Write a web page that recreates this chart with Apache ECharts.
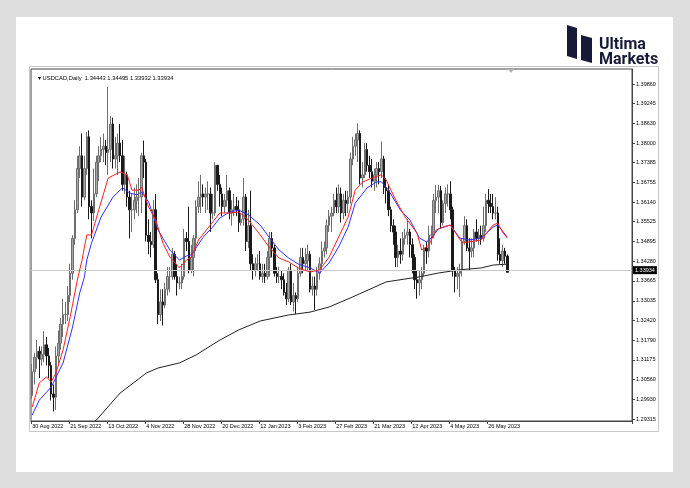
<!DOCTYPE html>
<html><head><meta charset="utf-8">
<script src="https://cdn.jsdelivr.net/npm/echarts@6/dist/echarts.min.js"></script>
<style>html,body{margin:0;padding:0;background:#dedede}#c{width:690px;height:488px}</style>
</head><body><div id="c"></div>
<script>
const symbolName = 'USDCAD,Daily';
const firstDay = '2022-08-30';
const lastDay = '2023-06-07';
const closedDays = ['2022-12-26'];
const barSlots = 253;
// [open, close, low, high]
const ohlc = [
[1.3005,1.3080,1.2996,1.3104],[1.3080,1.3125,1.3040,1.3140],[1.3125,1.3145,1.3090,1.3180],[1.3145,1.3120,1.3060,1.3160],
[1.3120,1.3135,1.3100,1.3160],[1.3135,1.3165,1.3110,1.3208],[1.3165,1.3130,1.3100,1.3190],[1.3130,1.3100,1.3060,1.3155],
[1.3100,1.3010,1.2990,1.3110],[1.3010,1.3000,1.2955,1.3040],[1.3000,1.3130,1.2960,1.3160],[1.3130,1.3170,1.3100,1.3210],
[1.3170,1.3230,1.3150,1.3250],[1.3230,1.3260,1.3190,1.3310],[1.3260,1.3260,1.3230,1.3300],[1.3260,1.3320,1.3240,1.3350],
[1.3320,1.3390,1.3300,1.3420],[1.3390,1.3500,1.3370,1.3510],[1.3500,1.3590,1.3480,1.3620],[1.3590,1.3720,1.3580,1.3760],
[1.3720,1.3760,1.3690,1.3790],[1.3760,1.3630,1.3600,1.3830],[1.3630,1.3720,1.3620,1.3760],[1.3720,1.3820,1.3700,1.3835],
[1.3820,1.3600,1.3560,1.3840],[1.3600,1.3580,1.3500,1.3620],[1.3580,1.3640,1.3555,1.3720],[1.3640,1.3740,1.3630,1.3760],
[1.3740,1.3760,1.3680,1.3790],[1.3760,1.3780,1.3740,1.3820],[1.3780,1.3790,1.3740,1.3830],[1.3790,1.3770,1.3730,1.3810],
[1.3770,1.3780,1.3700,1.3977],[1.3780,1.3860,1.3740,1.3885],[1.3860,1.3750,1.3720,1.3880],[1.3750,1.3760,1.3720,1.3820],
[1.3760,1.3800,1.3700,1.3830],[1.3800,1.3760,1.3740,1.3860],[1.3760,1.3670,1.3650,1.3810],[1.3670,1.3700,1.3640,1.3760],
[1.3700,1.3630,1.3600,1.3710],[1.3630,1.3590,1.3500,1.3650],[1.3590,1.3590,1.3520,1.3640],[1.3590,1.3620,1.3560,1.3660],
[1.3620,1.3630,1.3580,1.3670],[1.3630,1.3630,1.3570,1.3690],[1.3630,1.3760,1.3580,1.3770],[1.3760,1.3740,1.3690,1.3808],
[1.3740,1.3510,1.3490,1.3750],[1.3510,1.3490,1.3450,1.3560],[1.3490,1.3480,1.3440,1.3520],[1.3480,1.3590,1.3470,1.3620],
[1.3590,1.3370,1.3360,1.3640],[1.3370,1.3260,1.3230,1.3390],[1.3260,1.3300,1.3240,1.3340],[1.3300,1.3290,1.3226,1.3340],
[1.3290,1.3340,1.3280,1.3360],[1.3340,1.3380,1.3320,1.3410],[1.3380,1.3380,1.3330,1.3410],[1.3380,1.3450,1.3370,1.3470],
[1.3450,1.3380,1.3370,1.3460],[1.3380,1.3360,1.3320,1.3420],[1.3360,1.3360,1.3340,1.3380],[1.3360,1.3380,1.3340,1.3420],
[1.3380,1.3500,1.3370,1.3530],[1.3500,1.3490,1.3460,1.3520],[1.3490,1.3400,1.3390,1.3600],[1.3400,1.3440,1.3390,1.3480],
[1.3440,1.3500,1.3380,1.3510],[1.3500,1.3600,1.3460,1.3620],[1.3600,1.3630,1.3580,1.3680],[1.3630,1.3640,1.3580,1.3700],
[1.3640,1.3630,1.3600,1.3670],[1.3630,1.3640,1.3580,1.3660],[1.3640,1.3640,1.3590,1.3680],[1.3640,1.3580,1.3520,1.3660],
[1.3580,1.3580,1.3560,1.3640],[1.3580,1.3730,1.3570,1.3740],[1.3730,1.3670,1.3650,1.3700],[1.3670,1.3640,1.3600,1.3700],
[1.3640,1.3600,1.3570,1.3660],[1.3600,1.3620,1.3580,1.3640],[1.3620,1.3650,1.3600,1.3700],[1.3650,1.3580,1.3560,1.3660],
[1.3580,1.3590,1.3540,1.3620],[1.3590,1.3600,1.3570,1.3640],[1.3600,1.3590,1.3570,1.3630],[1.3590,1.3550,1.3520,1.3620],
[1.3550,1.3560,1.3540,1.3580],[1.3560,1.3630,1.3540,1.3690],[1.3630,1.3490,1.3460,1.3640],[1.3490,1.3540,1.3470,1.3590],
[1.3540,1.3420,1.3400,1.3650],[1.3420,1.3400,1.3370,1.3450],[1.3400,1.3420,1.3380,1.3440],[1.3420,1.3420,1.3400,1.3450],
[1.3420,1.3380,1.3370,1.3460],[1.3380,1.3390,1.3360,1.3420],[1.3390,1.3380,1.3360,1.3420],[1.3380,1.3440,1.3370,1.3460],
[1.3440,1.3500,1.3380,1.3520],[1.3500,1.3470,1.3440,1.3520],[1.3470,1.3390,1.3380,1.3480],[1.3390,1.3380,1.3360,1.3410],
[1.3380,1.3380,1.3360,1.3410],[1.3380,1.3370,1.3340,1.3400],[1.3370,1.3330,1.3320,1.3390],[1.3330,1.3310,1.3290,1.3360],
[1.3310,1.3400,1.3300,1.3410],[1.3400,1.3300,1.3290,1.3420],[1.3300,1.3320,1.3270,1.3360],[1.3320,1.3310,1.3262,1.3330],
[1.3310,1.3390,1.3300,1.3410],[1.3390,1.3440,1.3380,1.3470],[1.3440,1.3420,1.3390,1.3470],[1.3420,1.3430,1.3400,1.3470],
[1.3430,1.3450,1.3400,1.3480],[1.3450,1.3340,1.3330,1.3460],[1.3340,1.3350,1.3320,1.3380],[1.3350,1.3340,1.3275,1.3380],
[1.3340,1.3390,1.3320,1.3410],[1.3390,1.3420,1.3370,1.3440],[1.3420,1.3460,1.3400,1.3490],[1.3460,1.3470,1.3440,1.3490],
[1.3470,1.3540,1.3450,1.3560],[1.3540,1.3570,1.3520,1.3590],[1.3570,1.3580,1.3520,1.3600],[1.3580,1.3620,1.3570,1.3640],
[1.3620,1.3600,1.3580,1.3660],[1.3600,1.3640,1.3580,1.3670],[1.3640,1.3580,1.3550,1.3660],[1.3580,1.3620,1.3560,1.3640],
[1.3620,1.3610,1.3570,1.3650],[1.3610,1.3630,1.3580,1.3650],[1.3630,1.3750,1.3610,1.3770],[1.3750,1.3790,1.3730,1.3820],
[1.3790,1.3810,1.3760,1.3830],[1.3810,1.3830,1.3740,1.3862],[1.3830,1.3690,1.3670,1.3840],[1.3690,1.3700,1.3660,1.3740],
[1.3700,1.3780,1.3690,1.3800],[1.3780,1.3730,1.3710,1.3800],[1.3730,1.3710,1.3690,1.3760],[1.3710,1.3680,1.3660,1.3750],
[1.3680,1.3700,1.3650,1.3720],[1.3700,1.3720,1.3660,1.3740],[1.3720,1.3710,1.3670,1.3740],[1.3710,1.3750,1.3690,1.3805],
[1.3750,1.3660,1.3640,1.3760],[1.3660,1.3650,1.3610,1.3690],[1.3650,1.3590,1.3570,1.3670],[1.3590,1.3540,1.3520,1.3600],
[1.3540,1.3520,1.3480,1.3560],[1.3520,1.3440,1.3410,1.3540],[1.3440,1.3460,1.3410,1.3480],[1.3460,1.3450,1.3420,1.3500],
[1.3450,1.3500,1.3430,1.3520],[1.3500,1.3510,1.3480,1.3530],[1.3510,1.3520,1.3480,1.3560],[1.3520,1.3480,1.3440,1.3530],
[1.3480,1.3440,1.3390,1.3500],[1.3440,1.3370,1.3340,1.3450],[1.3370,1.3360,1.3310,1.3400],[1.3360,1.3370,1.3320,1.3400],
[1.3370,1.3390,1.3340,1.3410],[1.3390,1.3470,1.3380,1.3480],[1.3470,1.3460,1.3420,1.3490],[1.3460,1.3510,1.3440,1.3540],
[1.3510,1.3510,1.3480,1.3540],[1.3510,1.3620,1.3500,1.3640],[1.3620,1.3630,1.3580,1.3668],[1.3630,1.3650,1.3580,1.3668],
[1.3650,1.3550,1.3530,1.3665],[1.3550,1.3610,1.3540,1.3620],[1.3610,1.3640,1.3580,1.3660],[1.3640,1.3640,1.3600,1.3670],
[1.3640,1.3590,1.3560,1.3680],[1.3590,1.3400,1.3380,1.3600],[1.3400,1.3380,1.3330,1.3410],[1.3380,1.3390,1.3340,1.3410],
[1.3390,1.3400,1.3316,1.3420],[1.3400,1.3490,1.3380,1.3500],[1.3490,1.3540,1.3480,1.3570],[1.3540,1.3470,1.3460,1.3560],
[1.3470,1.3460,1.3400,1.3500],[1.3460,1.3470,1.3440,1.3500],[1.3470,1.3520,1.3440,1.3530],[1.3520,1.3500,1.3490,1.3560],
[1.3500,1.3510,1.3480,1.3530],[1.3510,1.3500,1.3480,1.3540],[1.3500,1.3540,1.3490,1.3600],[1.3540,1.3620,1.3520,1.3640],
[1.3620,1.3610,1.3580,1.3655],[1.3610,1.3600,1.3580,1.3640],[1.3600,1.3580,1.3560,1.3640],[1.3580,1.3580,1.3560,1.3630],
[1.3580,1.3450,1.3430,1.3600],[1.3450,1.3430,1.3420,1.3500],[1.3430,1.3460,1.3410,1.3480],[1.3460,1.3444,1.3420,1.3470],
[1.34443,1.33934,1.33932,1.34495]
];
// fast MA (red), [bar index, value]
const maRed = [[0,1.2969],[3,1.3045],[6,1.3064],[8,1.3048],[10,1.3076],[13,1.3149],[16,1.3253],[19,1.3369],[21,1.3432],[22,1.3473],[23,1.3511],[25,1.3511],[28,1.3589],[32,1.3690],[37,1.3709],[40,1.3700],[42,1.3652],[45,1.3652],[46,1.3662],[49,1.3599],[52,1.3558],[55,1.3486],[58,1.3441],[62,1.3407],[65,1.3432],[67,1.3441],[70,1.3495],[75,1.3542],[79,1.3580],[83,1.3580],[87,1.3583],[91,1.3558],[96,1.3511],[100,1.3470],[104,1.3438],[108,1.3426],[112,1.3407],[117,1.3394],[121,1.3401],[125,1.3441],[129,1.3504],[133,1.3567],[136,1.3652],[139,1.3677],[143,1.3690],[147,1.3700],[149,1.3684],[153,1.3621],[157,1.3567],[162,1.3517],[164,1.3463],[167,1.3479],[170,1.3526],[173,1.3536],[176,1.3542],[178,1.3520],[181,1.3486],[184,1.3489],[189,1.3495],[194,1.3542],[196,1.3548],[198,1.3520],[200,1.3501]];
// slower MA (blue)
const maBlue = [[0,1.2944],[3,1.2991],[8,1.3032],[13,1.3108],[17,1.3221],[20,1.3328],[22,1.3379],[23,1.3432],[25,1.3486],[29,1.3567],[34,1.3630],[38,1.3659],[41,1.3643],[44,1.3637],[46,1.3646],[49,1.3615],[53,1.3526],[58,1.3463],[62,1.3432],[65,1.3445],[67,1.3448],[72,1.3504],[76,1.3536],[79,1.3564],[83,1.3583],[87,1.3589],[91,1.3574],[96,1.3542],[100,1.3501],[104,1.3463],[108,1.3438],[112,1.3419],[117,1.3407],[121,1.3391],[125,1.3423],[129,1.3473],[133,1.3536],[136,1.3611],[141,1.3659],[145,1.3678],[147,1.3678],[150,1.3652],[155,1.3589],[159,1.3558],[163,1.3501],[166,1.3489],[168,1.3501],[171,1.3530],[176,1.3542],[180,1.3501],[184,1.3495],[189,1.3501],[194,1.3536],[196,1.3542],[200,1.3504]];
// long MA (black)
const maLong = [[22,1.2895],[27,1.2928],[37,1.3013],[48,1.3076],[53,1.3092],[62,1.3108],[69,1.3133],[79,1.3180],[87,1.3212],[96,1.3240],[108,1.3259],[117,1.3268],[125,1.3284],[135,1.3316],[149,1.3363],[163,1.3379],[171,1.3391],[180,1.3401],[189,1.3407],[194,1.3416],[200,1.3419]];
const priceTicks = [1.29315,1.29930,1.30560,1.31175,1.31790,1.32420,1.33035,1.33665,1.34280,1.34895,1.35525,1.36140,1.36755,1.37385,1.38000,1.38630,1.39245,1.39860];
const priceMin = 1.29252, priceMax = 1.40332;

const monthNames = ['Jan','Feb','Mar','Apr','May','Jun','Jul','Aug','Sep','Oct','Nov','Dec'];
const dates = [];
for (let t = Date.parse(firstDay + 'T00:00:00Z'); t <= Date.parse(lastDay + 'T00:00:00Z'); t += 86400000) {
  const d = new Date(t), wd = d.getUTCDay(), iso = d.toISOString().slice(0, 10);
  if (wd === 0 || wd === 6 || closedDays.includes(iso)) continue;
  dates.push(d.getUTCDate() + ' ' + monthNames[d.getUTCMonth()] + ' ' + d.getUTCFullYear());
}
const cats = dates.slice();
for (let i = dates.length; i < barSlots; i++) cats.push('_' + i);
const last = ohlc[ohlc.length - 1];
const f5 = v => v.toFixed(5);
const headText = '\u25BE ' + symbolName + '  ' + [last[0], last[3], last[2], last[1]].map(f5).join(' ');
const FONT = 'Liberation Sans';
const showDateTick = (i, v) => i % 16 === 0 && v.charAt(0) !== '_';

const chart = echarts.init(document.getElementById('c'), null, {renderer: 'canvas'});
chart.setOption({
  animation: false,
  backgroundColor: '#dedede',
  title: {text: headText, left: 33, top: 70, textStyle: {fontFamily: FONT, fontSize: 5.8, fontWeight: 'normal', color: '#000'}},
  grid: {left: 31, right: 58, top: 69, bottom: 67, show: true, backgroundColor: '#ffffff', borderColor: '#444', borderWidth: 1},
  xAxis: {
    type: 'category', data: cats, boundaryGap: true,
    axisLine: {show: true, lineStyle: {color: '#444', width: 1}},
    axisTick: {show: true, interval: showDateTick, length: 3, inside: false, lineStyle: {color: '#444'}},
    axisLabel: {interval: showDateTick, align: 'left', margin: 2, fontFamily: FONT, fontSize: 5.5, color: '#000',
      formatter: v => v.charAt(0) === '_' ? '' : v},
    splitLine: {show: false}
  },
  yAxis: {
    type: 'value', position: 'right', min: priceMin, max: priceMax, scale: true,
    axisLine: {show: true, lineStyle: {color: '#444', width: 1}},
    axisTick: {show: true, length: 3, customValues: priceTicks, lineStyle: {color: '#444'}},
    axisLabel: {customValues: priceTicks, formatter: v => f5(v), margin: 4, fontFamily: FONT, fontSize: 5.5, color: '#000'},
    splitLine: {show: false}
  },
  graphic: [
    {type: 'rect', z: -10, shape: {x: 16, y: 17, width: 657, height: 455}, style: {fill: '#ffffff'}},
    {type: 'rect', z: -9, shape: {x: 29.5, y: 66.5, width: 629, height: 365}, style: {fill: 'none', stroke: '#c8c8c8', lineWidth: 1}},
    {type: 'polygon', shape: {points: [[508, 69], [514, 69], [511, 73]]}, style: {fill: '#b0b0b0'}},
    {type: 'polygon', shape: {points: [[567, 25], [577, 28], [577, 59], [567, 56]]}, style: {fill: '#161a36'}},
    {type: 'polygon', shape: {points: [[581, 35], [592, 38], [592, 63], [581, 60]]}, style: {fill: '#161a36'}},
    {type: 'text', x: 599, y: 37, style: {text: 'Ultima\nMarkets', fill: '#161a36', font: 'bold 16px Roboto', lineHeight: 15}}
  ],
  series: [
    {
      type: 'candlestick', data: ohlc, barWidth: 2,
      itemStyle: {color: '#a8a8a8', color0: '#1a1a1a', borderColor: '#6e6e6e', borderColor0: '#1a1a1a', borderWidth: 1},
      markLine: {
        silent: true, symbol: ['none', 'none'],
        lineStyle: {color: '#c8c8c8', type: 'solid', width: 1},
        label: {position: 'end', formatter: () => f5(last[1]), color: '#fff', backgroundColor: '#000', padding: [1, 2], fontFamily: FONT, fontSize: 5.5, distance: 1},
        data: [{yAxis: last[1]}]
      }
    },
    {type: 'line', data: maLong, symbol: 'none', lineStyle: {color: '#222', width: 1}, z: 3},
    {type: 'line', data: maBlue, symbol: 'none', lineStyle: {color: '#3030ff', width: 1}, z: 4},
    {type: 'line', data: maRed, symbol: 'none', lineStyle: {color: '#ff2020', width: 1}, z: 5}
  ]
});
</script></body></html>
